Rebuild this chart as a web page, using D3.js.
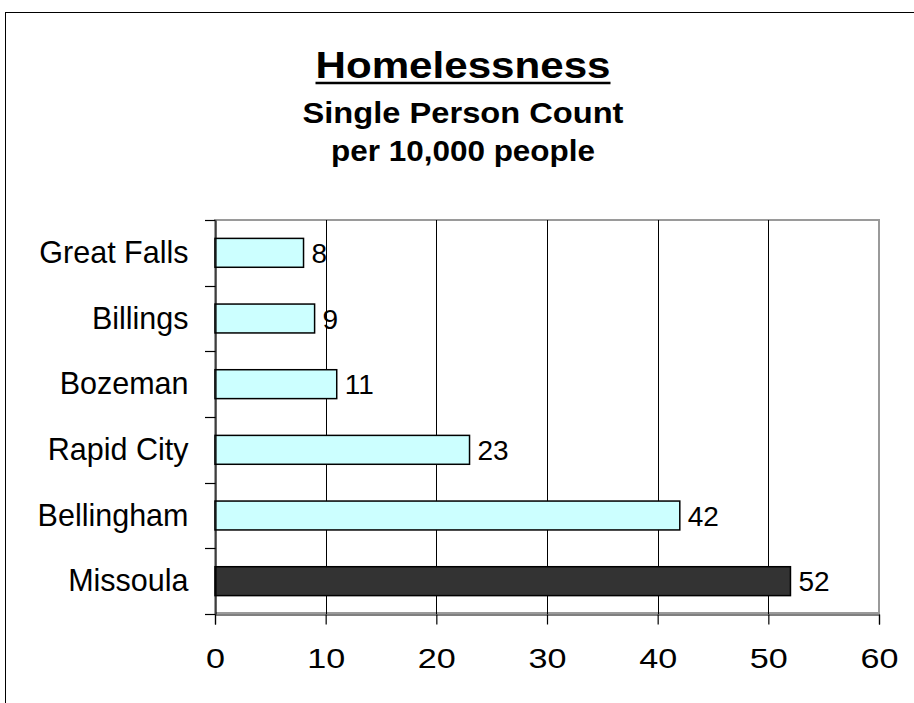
<!DOCTYPE html>
<html>
<head>
<meta charset="utf-8">
<script src="https://cdn.jsdelivr.net/npm/d3@7"></script>
<style>
  html, body { margin: 0; padding: 0; background: #fff; }
  svg { display: block; }
  text { font-family: Arial, "Liberation Sans", sans-serif; fill: #000; }
</style>
</head>
<body>
<svg id="chart" width="914" height="703"></svg>
<script>
const categories = ["Great Falls", "Billings", "Bozeman", "Rapid City", "Bellingham", "Missoula"];
const values = [8, 9, 11, 23, 42, 52];
const highlight = ["Missoula"];
const xTicks = [0, 10, 20, 30, 40, 50, 60];
const titleText = "Homelessness";
const subtitleLines = ["Single Person Count", "per 10,000 people"];

const svg = d3.select("#chart");

// outer chart frame
svg.append("rect").attr("x", 5.5).attr("y", 12.5).attr("width", 940).attr("height", 720)
  .attr("fill", "#fff").attr("stroke", "#000").attr("stroke-width", 1);

const x = d3.scaleLinear().domain([0, 60]).range([215, 879]);
const y = d3.scaleBand().domain(categories).range([220, 614]).paddingInner(0.56).paddingOuter(0.28);

// plot area border (gray)
svg.append("rect").attr("x", x(0)).attr("y", 220).attr("width", x(60) - x(0)).attr("height", 393)
  .attr("fill", "none").attr("stroke", "#9a9a9a").attr("stroke-width", 2);

// gridlines
svg.append("g").selectAll("line").data(xTicks.filter(t => t > 0 && t < 60)).join("line")
  .attr("x1", d => Math.round(x(d)) + 0.5).attr("x2", d => Math.round(x(d)) + 0.5)
  .attr("y1", 220).attr("y2", 614).attr("stroke", "#000").attr("stroke-width", 1);

// bars
svg.append("g").selectAll("rect").data(categories).join("rect")
  .attr("x", x(0))
  .attr("y", d => y(d))
  .attr("width", (d, i) => x(values[i]) - x(0))
  .attr("height", y.bandwidth())
  .attr("fill", d => highlight.includes(d) ? "#333333" : "#ccffff")
  .attr("stroke", "#000").attr("stroke-width", 1.5);

// value labels
svg.append("g").selectAll("text").data(categories).join("text")
  .attr("x", (d, i) => x(values[i]) + 8)
  .attr("y", d => y(d) + y.bandwidth() / 2 + 10)
  .attr("font-size", 28)
  .text((d, i) => values[i]);

// x axis
const xAxis = svg.append("g").attr("transform", "translate(0,614.5)")
  .call(d3.axisBottom(x).tickValues(xTicks).tickSize(10).tickPadding(24).tickFormat(d3.format("d")));
xAxis.select(".domain").attr("stroke", "#000").attr("stroke-width", 1.2);
xAxis.selectAll(".tick line").attr("stroke", "#000").attr("stroke-width", 1.2);
xAxis.selectAll("text").attr("font-size", 28).attr("font-family", "Arial, 'Liberation Sans', sans-serif").attr("fill", "#000")
  .attr("transform", "scale(1.22,1)");

// y axis (labels at band centers)
const yAxis = svg.append("g").attr("transform", "translate(215.5,0)")
  .call(d3.axisLeft(y).tickSize(0).tickPadding(27));
yAxis.select(".domain").attr("stroke", "#000").attr("stroke-width", 1.2);
yAxis.selectAll("text").attr("font-size", 30.5).attr("font-family", "Arial, 'Liberation Sans', sans-serif").attr("fill", "#000")
  .attr("dy", "0.33em");

// y ticks at band boundaries
const bounds = categories.map(c => y(c) - y.step() * y.paddingInner() / 2).concat([614]);
bounds[0] = 220;
svg.append("g").selectAll("line").data(bounds).join("line")
  .attr("x1", 205).attr("x2", 215.5)
  .attr("y1", d => Math.round(d) + 0.5).attr("y2", d => Math.round(d) + 0.5)
  .attr("stroke", "#000").attr("stroke-width", 1.2);

// title
const cx = 463;
svg.append("text").attr("x", cx).attr("y", 77.5).attr("text-anchor", "middle")
  .attr("font-size", 36).attr("font-weight", "bold")
  .attr("textLength", 295).attr("lengthAdjust", "spacingAndGlyphs").text(titleText);
svg.append("line").attr("x1", cx - 147.5).attr("x2", cx + 147.5).attr("y1", 83).attr("y2", 83)
  .attr("stroke", "#000").attr("stroke-width", 2.5);

const subW = [321, 264];
const subY = [123, 161];
subtitleLines.forEach((s, i) => {
  svg.append("text").attr("x", cx).attr("y", subY[i]).attr("text-anchor", "middle")
    .attr("font-size", 30).attr("font-weight", "bold")
    .attr("textLength", subW[i]).attr("lengthAdjust", "spacingAndGlyphs").text(s);
});
</script>
</body>
</html>
